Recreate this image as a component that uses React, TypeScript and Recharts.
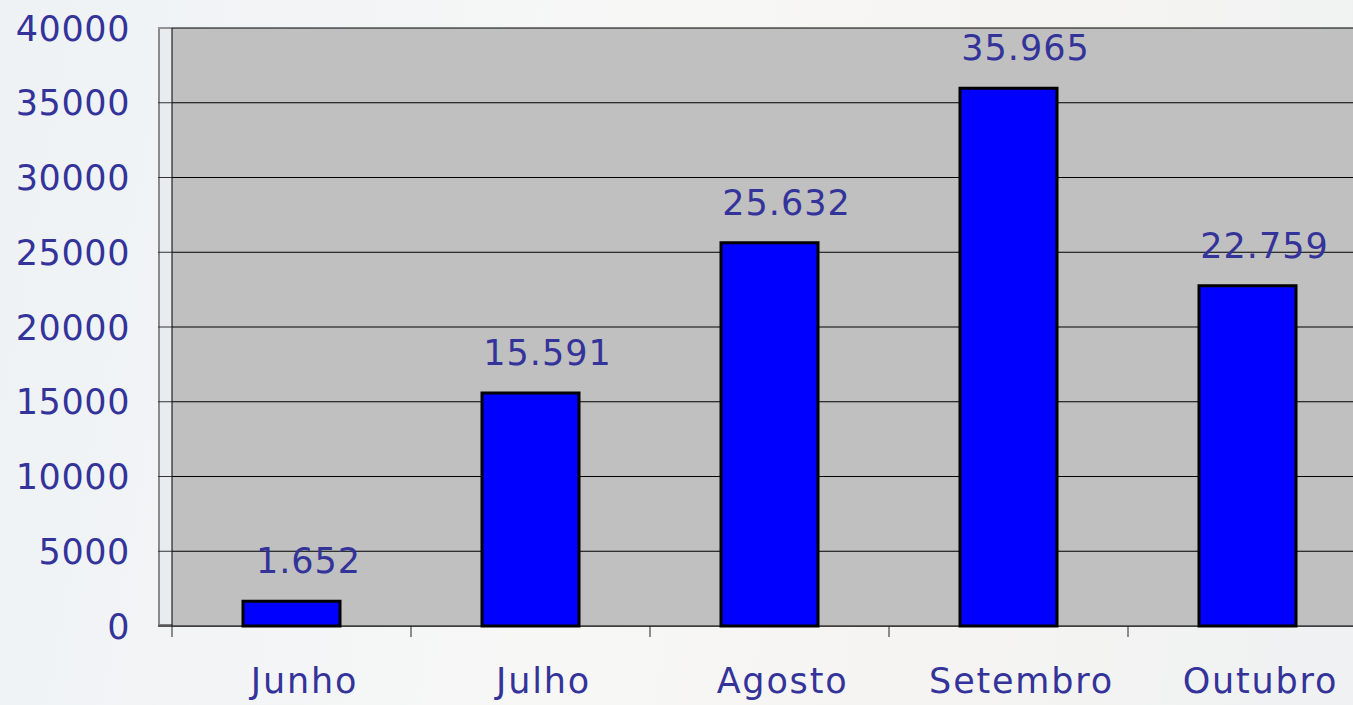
import React from 'react';
import {
  BarChart,
  Bar,
  XAxis,
  YAxis,
  CartesianGrid,
  LabelList,
} from 'recharts';

const months = ['Junho', 'Julho', 'Agosto', 'Setembro', 'Outubro'];
const totals = [1652, 15591, 25632, 35965, 22759];
const yTicks = [0, 5000, 10000, 15000, 20000, 25000, 30000, 35000, 40000];

const data = months.map((month, i) => ({ month, total: totals[i] }));

const CHART_W = 1400;
const CHART_H = 705;
const MARGIN = { top: 28, right: 33, bottom: 0, left: 0 };
const Y_AXIS_W = 172;
const X_AXIS_H = 79;
const PLOT_BOTTOM = CHART_H - MARGIN.bottom - X_AXIS_H;
const BAND = (CHART_W - MARGIN.right - Y_AXIS_W) / months.length;

const TEXT = '#33339a';
const FONT = '"DejaVu Sans", Verdana, sans-serif';

// 1652 -> "1.652"
const fmt = (v: number) => String(v).replace(/\B(?=(\d{3})+(?!\d))/g, '.');

const YTick = (props: any) => {
  const { x, y, payload } = props;
  return (
    <text
      x={x}
      y={y}
      dy="0.36em"
      textAnchor="end"
      fill={TEXT}
      fontSize={35}
      fontFamily={FONT}
      letterSpacing={0.6}
    >
      {payload.value}
    </text>
  );
};

const XTick = (props: any) => {
  const { x, payload } = props;
  const left = x - BAND / 2;
  return (
    <g>
      <line x1={left} x2={left} y1={PLOT_BOTTOM} y2={PLOT_BOTTOM + 11} stroke="#222" strokeWidth={1} />
      <text
        x={x + 13}
        y={PLOT_BOTTOM + 67}
        textAnchor="middle"
        fill={TEXT}
        fontSize={35}
        fontFamily={FONT}
        letterSpacing={1.8}
      >
        {payload.value}
      </text>
    </g>
  );
};

const ValueLabel = (props: any) => {
  const { x, y, width, value } = props;
  return (
    <text
      x={x + width / 2 + 17}
      y={y - 28}
      textAnchor="middle"
      fill={TEXT}
      fontSize={35}
      fontFamily={FONT}
      letterSpacing={1}
    >
      {fmt(value)}
    </text>
  );
};

export default function App() {
  return (
    <div
      style={{
        position: 'fixed',
        left: 0,
        top: 0,
        width: 1353,
        height: 705,
        overflow: 'hidden',
        background: 'linear-gradient(100deg, #eef2f5 0%, #f7f7f6 45%, #f5f4f2 70%, #eff1f2 100%)',
      }}
    >
      {/* left wall of the plot frame */}
      <div
        style={{
          position: 'absolute',
          left: 158,
          top: 29,
          width: 14,
          height: PLOT_BOTTOM - 29 + 1,
          background: '#e8ecee',
          borderLeft: '2px solid #8a8a8a',
          boxSizing: 'border-box',
        }}
      />
      <div
        style={{
          position: 'absolute',
          left: 158,
          top: PLOT_BOTTOM - 2,
          width: 1353 - 158,
          height: 3,
          background: '#7c7c7c',
        }}
      />
      <div
        style={{
          position: 'absolute',
          left: 1351,
          top: 29,
          width: 2,
          height: PLOT_BOTTOM - 29,
          background: '#8a8a8a',
        }}
      />
      <div style={{ position: 'absolute', left: 0, top: 0 }}>
        <BarChart width={CHART_W} height={CHART_H} data={data} margin={MARGIN}>
          <CartesianGrid horizontal vertical={false} stroke="#000" strokeWidth={1} fill="#c0c0c0" />
          <XAxis
            dataKey="month"
            height={X_AXIS_H}
            axisLine={false}
            tickLine={false}
            tick={<XTick />}
            interval={0}
          />
          <YAxis
            width={Y_AXIS_W}
            domain={[0, 40000]}
            ticks={yTicks}
            interval={0}
            axisLine={{ stroke: '#000', strokeWidth: 1 }}
            tickLine={{ stroke: '#333', strokeWidth: 1 }}
            tickSize={14}
            tickMargin={28}
            tick={<YTick />}
          />
          <Bar
            dataKey="total"
            fill="#0000ff"
            stroke="#000"
            strokeWidth={3}
            barSize={97}
            isAnimationActive={false}
          >
            <LabelList dataKey="total" content={<ValueLabel />} />
          </Bar>
        </BarChart>
      </div>
    </div>
  );
}
